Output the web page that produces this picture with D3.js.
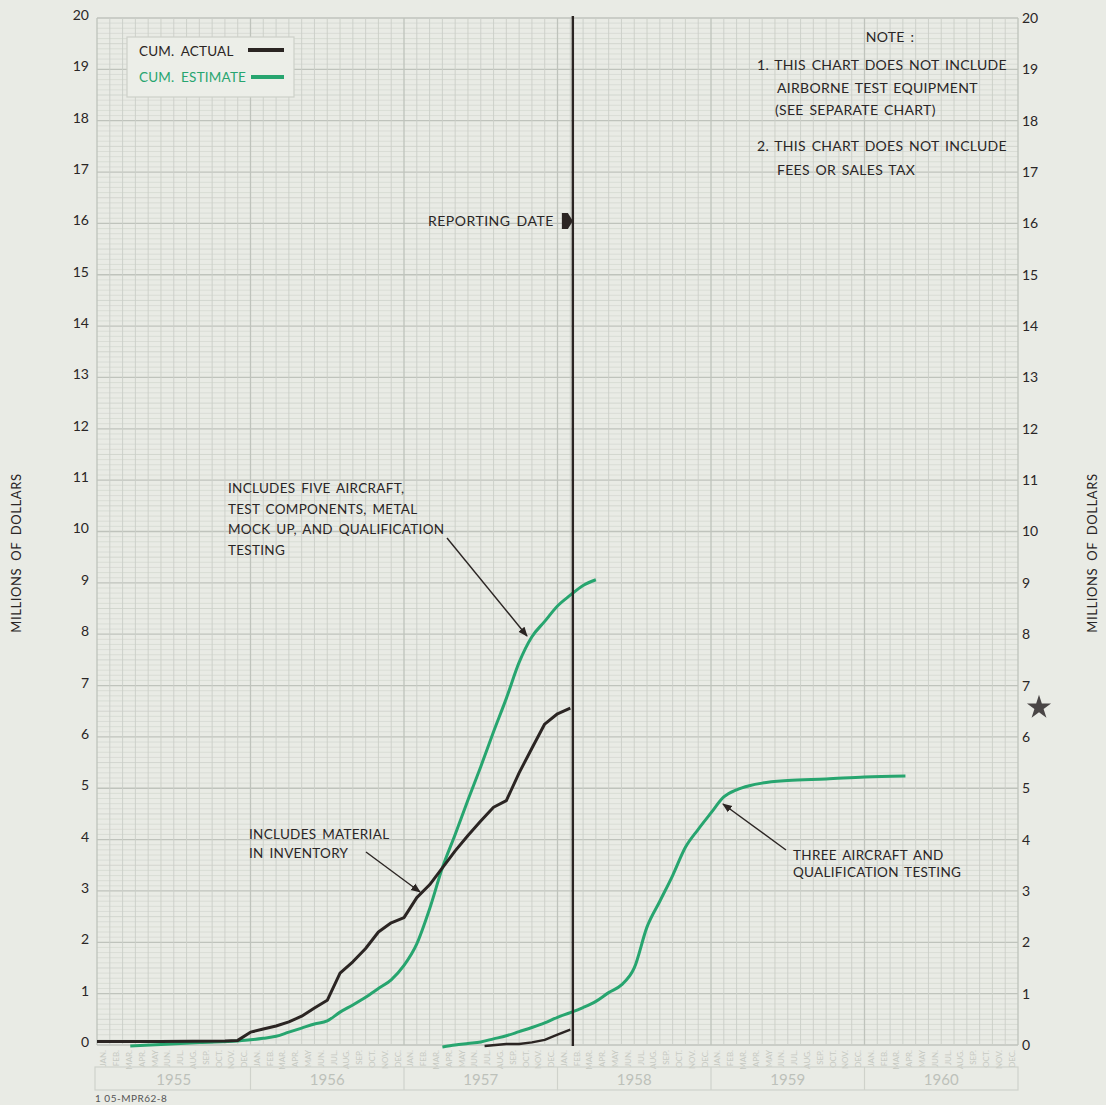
<!DOCTYPE html>
<html><head><meta charset="utf-8">
<script src="https://cdn.jsdelivr.net/npm/d3@7"></script>
<style>
html,body{margin:0;padding:0;background:#e9ebe5;}
svg{display:block;}
text{font-family:Lato,"Open Sans",sans-serif;}
</style></head>
<body>
<svg id="chart" width="1106" height="1105"></svg>
<script>
// ---------- DATA ----------
const years = ["1955","1956","1957","1958","1959","1960"];
const monthNames = ["JAN.","FEB.","MAR.","APR.","MAY","JUN.","JUL.","AUG.","SEP.","OCT.","NOV.","DEC."];
const yTicks = d3.range(0, 21);
// month offsets from Jan 1955 start
const actual1Months = [0,5,10,11,12,13,14,15,16,17,18,19,20,21,22,23,24,25,26,27,28,29,30,31,32,33,34,35,36,37];
const actual1Values = [0.07,0.07,0.08,0.09,0.25,0.31,0.37,0.45,0.56,0.72,0.87,1.40,1.62,1.88,2.20,2.38,2.48,2.87,3.12,3.45,3.78,4.08,4.36,4.63,4.76,5.30,5.78,6.25,6.45,6.56];
const estimate1Months = [2.6,5,8,11,12,13,14,15,16,17,18,19,20,21,22,23,24,25,26,27,28,29,30,31,32,33,34,35,36,37,38,39];
const estimate1Values = [-0.02,0.01,0.05,0.08,0.10,0.13,0.17,0.25,0.33,0.41,0.47,0.64,0.78,0.93,1.10,1.27,1.55,1.97,2.65,3.45,4.10,4.77,5.42,6.10,6.75,7.45,7.95,8.25,8.55,8.76,8.95,9.06];
const actual2Months = [30.3,32,33,34,35,36,37];
const actual2Values = [-0.02,0.02,0.02,0.05,0.10,0.20,0.30];
const estimate2Months = [27,28,29,30,31,32,33,34,35,36,37,38,39,40,41,42,43,44,45,46,47,48,49,50,51,52,54,57,60,63.2];
const estimate2Values = [-0.04,0.00,0.03,0.06,0.12,0.18,0.26,0.34,0.43,0.54,0.63,0.73,0.85,1.02,1.17,1.50,2.30,2.80,3.30,3.85,4.20,4.52,4.83,4.97,5.05,5.10,5.15,5.18,5.22,5.24];
const reportingMonth = 37.2;
const starValue = 6.65;
const legendItems = [{label:"CUM. ACTUAL", key:"actual"},{label:"CUM. ESTIMATE", key:"estimate"}];
const noteLines = ["1. THIS CHART DOES NOT INCLUDE","AIRBORNE TEST EQUIPMENT","(SEE SEPARATE CHART)","2. THIS CHART DOES NOT INCLUDE","FEES OR SALES TAX"];
const noteAnn1 = ["INCLUDES FIVE AIRCRAFT,","TEST COMPONENTS, METAL","MOCK UP, AND QUALIFICATION","TESTING"];
const noteAnn2 = ["INCLUDES MATERIAL","IN INVENTORY"];
const noteAnn3 = ["THREE AIRCRAFT AND","QUALIFICATION TESTING"];

// ---------- STYLE ----------
const C = {bg:"#e9ebe5", black:"#2b2523", green:"#27a56f", minor:"#d6d9d2", major:"#bfc3bc", text:"#2a2626"};
const svg = d3.select("#chart");
svg.append("rect").attr("width",1106).attr("height",1105).attr("fill",C.bg);

const x = d3.scaleLinear().domain([0,72]).range([97,1018]);
const y = d3.scaleLinear().domain([0,20]).range([1045,18]);

// grid
const g = svg.append("g");
g.selectAll("line.hmin").data(d3.range(0,201).map(i=>i/10)).join("line")
  .attr("x1",x(0)).attr("x2",x(72))
  .attr("y1",d=>y(d)).attr("y2",d=>y(d))
  .attr("stroke",(d,i)=> i%10===0 ? C.major : (i%5===0? "#cdd0c9" : C.minor))
  .attr("stroke-width",(d,i)=> i%10===0 ? 1.3 : 0.8);
g.selectAll("line.v").data(d3.range(0,73)).join("line")
  .attr("x1",d=>x(d)).attr("x2",d=>x(d))
  .attr("y1",y(0)).attr("y2",y(20))
  .attr("stroke",d=> d%12===0 ? C.major : "#cbcec7")
  .attr("stroke-width",d=> d%12===0 ? 1.3 : 0.9);

// axes labels
const axL = d3.axisLeft(y).tickValues(yTicks).tickSize(0).tickPadding(6).tickFormat(d3.format("d"));
const gl = svg.append("g").attr("transform",`translate(${x(0)-2},-3)`).call(axL);
const axR = d3.axisRight(y).tickValues(yTicks).tickSize(0).tickPadding(4).tickFormat(d3.format("d"));
const gr = svg.append("g").attr("transform",`translate(${x(72)},0)`).call(axR);
[gl,gr].forEach(a=>{a.select(".domain").remove(); a.selectAll("text").attr("font-size",14).attr("fill",C.text).style("font-family","Lato,sans-serif");});

// month labels
const months = d3.range(0,72);
svg.append("g").selectAll("text").data(months).join("text")
  .attr("transform",d=>`translate(${x(d+0.5)+3},${1050}) rotate(-90)`)
  .attr("text-anchor","end").attr("font-size",8).attr("fill","#c6c9c2")
  .text(d=>monthNames[d%12]);

// year boxes
const yb = svg.append("g");
yb.append("rect").attr("x",x(0)-2).attr("y",1067).attr("width",x(72)-x(0)+2).attr("height",23)
  .attr("fill","none").attr("stroke","#cfd2cb").attr("stroke-width",1.2);
yb.selectAll("line").data(d3.range(1,6)).join("line")
  .attr("x1",d=>x(d*12)).attr("x2",d=>x(d*12)).attr("y1",1067).attr("y2",1090)
  .attr("stroke","#cfd2cb").attr("stroke-width",1.2);
yb.selectAll("text").data(years).join("text")
  .attr("x",(d,i)=>x(i*12+6)).attr("y",1085).attr("text-anchor","middle")
  .attr("font-size",15).attr("fill","#bdc1ba").text(d=>d);

svg.append("text").attr("x",95).attr("y",1102).attr("font-size",10).attr("fill","#555")
  .attr("letter-spacing",0.5).text("1 05-MPR62-8");

// titles
svg.append("text").attr("transform","translate(21,553) rotate(-90)").attr("text-anchor","middle")
  .attr("font-size",13).attr("fill",C.text).attr("letter-spacing",0.6).attr("word-spacing",3).text("MILLIONS OF DOLLARS");
svg.append("text").attr("transform","translate(1097,553) rotate(-90)").attr("text-anchor","middle")
  .attr("font-size",13).attr("fill",C.text).attr("letter-spacing",0.6).attr("word-spacing",3).text("MILLIONS OF DOLLARS");

// lines
const lineLin = d3.line().x(d=>x(d[0])).y(d=>y(d[1])).curve(d3.curveLinear);
const lineSmooth = d3.line().x(d=>x(d[0])).y(d=>y(d[1])).curve(d3.curveMonotoneX);
const zip = (a,b)=>a.map((m,i)=>[m,b[i]]);
svg.append("path").datum(zip(estimate2Months,estimate2Values)).attr("d",lineSmooth)
  .attr("fill","none").attr("stroke",C.green).attr("stroke-width",3).attr("stroke-linejoin","round");
svg.append("path").datum(zip(estimate1Months,estimate1Values)).attr("d",lineSmooth)
  .attr("fill","none").attr("stroke",C.green).attr("stroke-width",3).attr("stroke-linejoin","round");
svg.append("path").datum(zip(actual2Months,actual2Values)).attr("d",lineLin)
  .attr("fill","none").attr("stroke",C.black).attr("stroke-width",2.4).attr("stroke-linejoin","round");
svg.append("path").datum(zip(actual1Months,actual1Values)).attr("d",lineLin)
  .attr("fill","none").attr("stroke",C.black).attr("stroke-width",3).attr("stroke-linejoin","round");

// reporting line
svg.append("line").attr("x1",x(reportingMonth)).attr("x2",x(reportingMonth))
  .attr("y1",y(20)-2).attr("y2",y(0)+1).attr("stroke",C.black).attr("stroke-width",2.4);
svg.append("path").attr("d",`M${x(reportingMonth)-11},${213} L${x(reportingMonth)-5},${213} L${x(reportingMonth)},${221} L${x(reportingMonth)-5},${229} L${x(reportingMonth)-11},${229} Z`)
  .attr("fill",C.black);
svg.append("text").attr("x",x(reportingMonth)-19).attr("y",226).attr("text-anchor","end")
  .attr("font-size",14).attr("fill",C.text).attr("letter-spacing",0.5).attr("word-spacing",2).text("REPORTING DATE");

// legend
const lg = svg.append("g");
lg.append("rect").attr("x",127).attr("y",37).attr("width",167).attr("height",60)
  .attr("fill","#eceee8").attr("stroke","#cdd0c9").attr("stroke-width",1.2);
legendItems.forEach((it,i)=>{
  const col = it.key==="actual"?C.black:C.green;
  lg.append("text").attr("x",139).attr("y",56+i*26).attr("font-size",13.5).attr("fill",col)
    .attr("letter-spacing",0.2).attr("word-spacing",3).text(it.label);
  lg.append("line").attr("x1",it.key==="actual"?248:251).attr("x2",284).attr("y1",50+i*27).attr("y2",50+i*27)
    .attr("stroke",col).attr("stroke-width",4);
});

// note
const nt = svg.append("g").attr("font-size",14).attr("fill",C.text).attr("letter-spacing",0.3).attr("word-spacing",1.8);
nt.append("text").attr("x",890).attr("y",42).attr("text-anchor","middle").text("NOTE :");
const noteX = [757,777,775,757,777], noteY=[70,93,115,151,175];
noteLines.forEach((t,i)=> nt.append("text").attr("x",noteX[i]).attr("y",noteY[i]).text(t));

// annotations
const ann = svg.append("g").attr("font-size",13.5).attr("fill",C.text).attr("letter-spacing",0.3).attr("word-spacing",2);
noteAnn1.forEach((t,i)=>ann.append("text").attr("x",228).attr("y",493+i*20.5).text(t));
noteAnn2.forEach((t,i)=>ann.append("text").attr("x",249).attr("y",839+i*19).text(t));
noteAnn3.forEach((t,i)=>ann.append("text").attr("x",793).attr("y",860+i*16.5).text(t));

svg.append("defs").append("marker").attr("id","ah").attr("viewBox","0 0 10 10").attr("refX",9).attr("refY",5)
  .attr("markerWidth",7).attr("markerHeight",7).attr("orient","auto")
  .append("path").attr("d","M0,1 L10,5 L0,9 Z").attr("fill",C.black);
const arrows = [[447,538,527,636],[366,852,420,892],[786,850,723,804]];
svg.append("g").selectAll("line").data(arrows).join("line")
  .attr("x1",d=>d[0]).attr("y1",d=>d[1]).attr("x2",d=>d[2]).attr("y2",d=>d[3])
  .attr("stroke",C.black).attr("stroke-width",1.4).attr("marker-end","url(#ah)");

// star
const star = d3.symbol().type(d3.symbolStar).size(180);
svg.append("path").attr("d",star()).attr("transform",`translate(1039,${y(starValue)+4})`).attr("fill","#4a4646");
</script>
</body></html>
